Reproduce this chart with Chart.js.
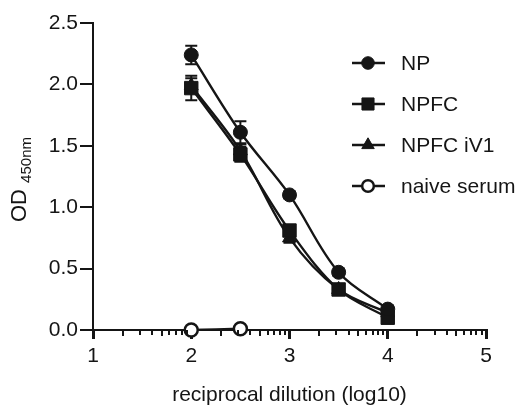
<!DOCTYPE html>
<html>
<head>
<meta charset="utf-8">
<script src="https://cdn.jsdelivr.net/npm/chart.js@4/dist/chart.umd.min.js"></script>
<style>
  html, body { margin: 0; padding: 0; background: #fff; }
  #wrap { width: 527px; height: 409px; position: relative; }
</style>
</head>
<body>
<div id="wrap"><canvas id="c" width="527" height="409"></canvas></div>
<script>
// ---- data ----
const dilution = [2, 2.5, 3, 3.5, 4];
const npMean = [2.24, 1.61, 1.10, 0.47, 0.17];
const npErr = [0.075, 0.09, 0.03, 0.03, 0.03];
const npfcMean = [1.97, 1.43, 0.81, 0.33, 0.10];
const npfcErr = [0.10, 0.06, 0.04, 0.03, 0.03];
const npfcIv1Mean = [1.99, 1.46, 0.75, 0.33, 0.14];
const npfcIv1Err = [0.06, 0.05, 0.04, 0.03, 0.03];
const naiveDilution = [2, 2.5];
const naiveMean = [0.0, 0.01];
const seriesLabels = ['NP', 'NPFC', 'NPFC iV1', 'naive serum'];
const xTicks = [1, 2, 3, 4, 5];
const yTicks = [0, 0.5, 1.0, 1.5, 2.0, 2.5];

const FONT = "'Liberation Sans', Arial, Helvetica, sans-serif";
const INK = '#151515';

function pts(xs, ys) { return xs.map((x, i) => ({ x: x, y: ys[i] })); }

const datasets = [
  { label: seriesLabels[0], data: pts(dilution, npMean), errors: npErr,
    pointStyle: 'circle', pointRadius: 7, backgroundColor: INK },
  { label: seriesLabels[1], data: pts(dilution, npfcMean), errors: npfcErr,
    pointStyle: 'rect', pointRadius: 9.5, backgroundColor: INK },
  { label: seriesLabels[2], data: pts(dilution, npfcIv1Mean), errors: npfcIv1Err,
    pointStyle: 'triangle', pointRadius: 8, backgroundColor: INK },
  { label: seriesLabels[3], data: pts(naiveDilution, naiveMean), errors: null,
    pointStyle: 'circle', pointRadius: 6.5, backgroundColor: '#fff', pointBorderWidth: 2.5 }
].map(d => Object.assign({
  showLine: true,
  borderColor: INK,
  borderWidth: 2.4,
  pointBorderColor: INK,
  pointBorderWidth: 1,
  pointBackgroundColor: d.backgroundColor,
  tension: 0.35,
  clip: false
}, d));

const errorBars = {
  id: 'errorBars',
  beforeDatasetsDraw(chart) {
    const ctx = chart.ctx, xs = chart.scales.x, ys = chart.scales.y;
    ctx.save();
    ctx.strokeStyle = INK;
    ctx.lineWidth = 2;
    chart.data.datasets.forEach(ds => {
      if (!ds.errors) return;
      ds.data.forEach((p, i) => {
        const e = ds.errors[i];
        const px = xs.getPixelForValue(p.x);
        const top = ys.getPixelForValue(p.y + e);
        const bot = ys.getPixelForValue(p.y - e);
        ctx.beginPath();
        ctx.moveTo(px, top); ctx.lineTo(px, bot);
        ctx.moveTo(px - 6, top); ctx.lineTo(px + 6, top);
        ctx.moveTo(px - 6, bot); ctx.lineTo(px + 6, bot);
        ctx.stroke();
      });
    });
    ctx.restore();
  }
};

const minorTicks = {
  id: 'minorTicks',
  afterDraw(chart) {
    const ctx = chart.ctx, xs = chart.scales.x;
    const y0 = chart.chartArea.bottom;
    ctx.save();
    ctx.strokeStyle = INK;
    ctx.lineWidth = 2;
    for (let d = xTicks[0]; d < xTicks[xTicks.length - 1]; d++) {
      for (let k = 2; k <= 9; k++) {
        const px = Math.round(xs.getPixelForValue(d + Math.log10(k)));
        const len = (k === 2 || k === 5) ? 6 : 5;
        ctx.beginPath();
        ctx.moveTo(px, y0); ctx.lineTo(px, y0 + len);
        ctx.stroke();
      }
    }
    ctx.restore();
  }
};

const yTitle = {
  id: 'yTitle',
  afterDraw(chart) {
    const ctx = chart.ctx;
    ctx.save();
    ctx.fillStyle = INK;
    ctx.translate(26, 222);
    ctx.rotate(-Math.PI / 2);
    ctx.textBaseline = 'alphabetic';
    ctx.textAlign = 'left';
    ctx.font = '22px ' + FONT;
    ctx.fillText('OD', 0, 0);
    const w = ctx.measureText('OD ').width;
    ctx.font = '15px ' + FONT;
    ctx.fillText('450nm', w, 5);
    ctx.restore();
  }
};

const legendRows = [63, 104, 145, 186];
const customLegend = {
  id: 'customLegend',
  afterDraw(chart) {
    const ctx = chart.ctx;
    ctx.save();
    chart.data.datasets.forEach((ds, i) => {
      const y = legendRows[i];
      ctx.strokeStyle = INK;
      ctx.lineWidth = 2.4;
      ctx.beginPath();
      ctx.moveTo(352, y); ctx.lineTo(385, y);
      ctx.stroke();
      ctx.fillStyle = ds.pointBackgroundColor;
      ctx.strokeStyle = INK;
      ctx.lineWidth = ds.pointBorderWidth;
      Chart.helpers.drawPoint(ctx, {
        pointStyle: ds.pointStyle,
        radius: ds.pointRadius * 0.9,
        borderWidth: ds.pointBorderWidth,
        rotation: 0
      }, 368, y);
      ctx.fillStyle = INK;
      ctx.font = '21px ' + FONT;
      ctx.textBaseline = 'middle';
      ctx.textAlign = 'left';
      ctx.fillText(ds.label, 401, y + 1);
    });
    ctx.restore();
  }
};

new Chart(document.getElementById('c'), {
  type: 'scatter',
  data: { datasets: datasets },
  plugins: [errorBars, minorTicks, yTitle, customLegend],
  options: {
    responsive: false,
    animation: false,
    layout: { padding: { left: 0, right: 41, top: 23, bottom: 0 } },
    plugins: { legend: { display: false }, tooltip: { enabled: false } },
    scales: {
      x: {
        type: 'linear', min: 1, max: 5,
        afterFit(s) { s.height = 79; },
        afterBuildTicks(s) { s.ticks = xTicks.map(v => ({ value: v })); },
        ticks: { color: INK, font: { family: FONT, size: 21 }, padding: 5, maxRotation: 0,
                 callback: v => String(v) },
        grid: { display: true, drawOnChartArea: false, drawTicks: true, tickLength: 9,
                color: INK, lineWidth: 3 },
        border: { display: true, color: INK, width: 2 },
        title: { display: true, text: 'reciprocal dilution (log10)', color: INK,
                 font: { family: FONT, size: 21 }, padding: { top: 0, bottom: 1 } }
      },
      y: {
        type: 'linear', min: 0, max: 2.5,
        afterFit(s) { s.width = 93; },
        afterBuildTicks(s) { s.ticks = yTicks.map(v => ({ value: v })); },
        ticks: { color: INK, font: { family: FONT, size: 21 }, padding: 2,
                 callback: v => Number(v).toFixed(1) },
        grid: { display: true, drawOnChartArea: false, drawTicks: true, tickLength: 13,
                color: INK, lineWidth: 2 },
        border: { display: true, color: INK, width: 2 },
        title: { display: false }
      }
    }
  }
});
</script>
</body>
</html>
